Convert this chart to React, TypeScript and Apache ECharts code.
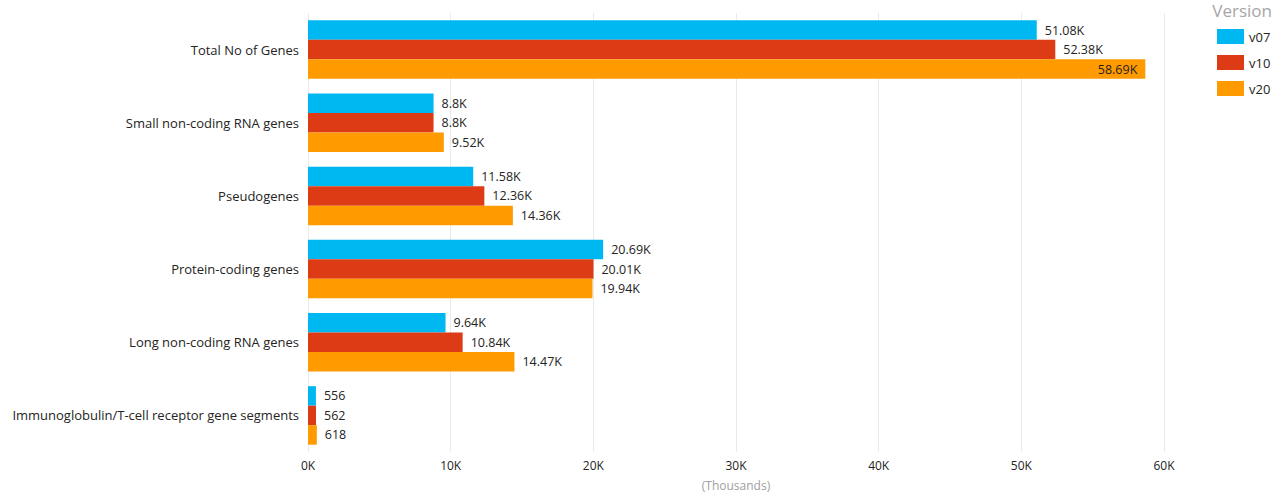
import React, { useEffect, useRef } from "react";
import * as echarts from "echarts";

const categories = [
  "Total No of Genes",
  "Small non-coding RNA genes",
  "Pseudogenes",
  "Protein-coding genes",
  "Long non-coding RNA genes",
  "Immunoglobulin/T-cell receptor gene segments",
];
const seriesNames = ["v07", "v10", "v20"];
const v07 = [51080, 8800, 11580, 20690, 9640, 556];
const v10 = [52380, 8800, 12360, 20010, 10840, 562];
const v20 = [58690, 9520, 14360, 19940, 14470, 618];
const colors = ["#00B8F1", "#DD3A16", "#FF9A00"];
const xTicks = [0, 10000, 20000, 30000, 40000, 50000, 60000];

const FONT = "'Open Sans', 'Noto Sans', sans-serif";
const xMax = xTicks[xTicks.length - 1];

function fmt(v: number): string {
  if (v < 1000) return String(v);
  const k = Math.round((v / 1000) * 100) / 100;
  return k + "K";
}

export default function App() {
  const ref = useRef<HTMLDivElement>(null);
  useEffect(() => {
    document.body.style.margin = "0";
    if (!ref.current) return;
    const chart = echarts.init(ref.current, undefined, { renderer: "svg" });
    const dataSets = [v07, v10, v20];
    chart.setOption({
      animation: false,
      textStyle: { fontFamily: FONT },
      title: {
        text: "Version",
        right: 0,
        top: -3,
        textStyle: { fontFamily: FONT, fontSize: 17, fontWeight: "normal", color: "#A6A6A6" },
      },
      legend: {
        orient: "vertical",
        left: 1212,
        top: 24,
        itemWidth: 27,
        itemHeight: 15,
        itemGap: 11,
        icon: "rect",
        textStyle: { fontFamily: FONT, fontSize: 13, color: "#252423" },
        data: seriesNames,
      },
      grid: { left: 308, right: 113, top: 13, bottom: 42 },
      xAxis: {
        type: "value",
        min: 0,
        max: xMax,
        interval: 10000,
        name: "(Thousands)",
        nameLocation: "middle",
        nameGap: 27,
        nameTextStyle: { fontFamily: FONT, fontSize: 12, color: "#A0A0A0" },
        axisLine: { show: false },
        axisTick: { show: false },
        axisLabel: {
          fontFamily: FONT,
          fontSize: 12,
          color: "#252423",
          margin: 7,
          formatter: (v: number) => v / 1000 + "K",
        },
        splitLine: { show: true, lineStyle: { color: "#EAEAEA", width: 1 } },
      },
      yAxis: {
        type: "category",
        inverse: true,
        data: categories,
        axisLine: { show: false },
        axisTick: { show: false },
        axisLabel: { fontFamily: FONT, fontSize: 13, color: "#252423", margin: 9 },
      },
      series: seriesNames.map((name, i) => ({
        name,
        type: "bar",
        barGap: "0%",
        barCategoryGap: "20%",
        itemStyle: { color: colors[i] },
        data: dataSets[i].map((v) => ({
          value: v,
          label: v / xMax > 0.95 ? { position: "insideRight", distance: 8 } : undefined,
        })),
        label: {
          show: true,
          position: "right",
          distance: 8,
          fontFamily: FONT,
          fontSize: 12.5,
          color: "#252423",
          formatter: (p: any) => fmt(p.value),
        },
      })),
    });
    return () => chart.dispose();
  }, []);
  return <div ref={ref} style={{ width: 1277, height: 496 }} />;
}
